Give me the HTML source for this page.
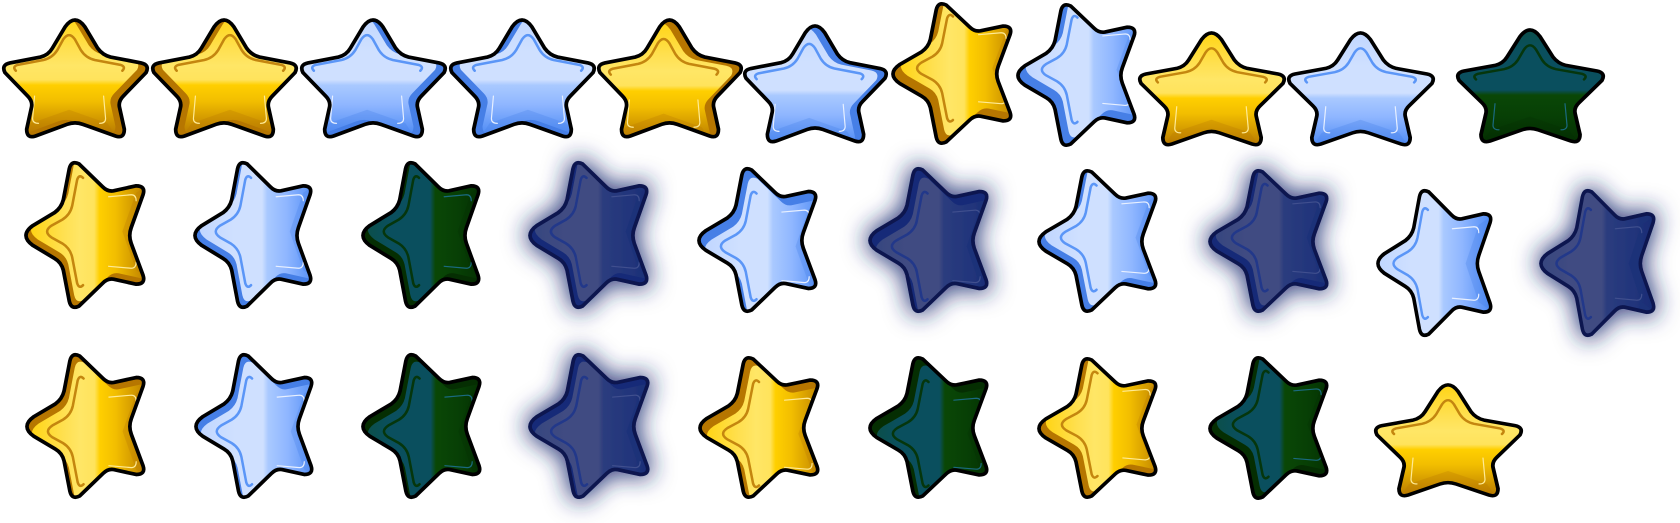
<!DOCTYPE html>
<html lang="en">
<head>
<meta charset="utf-8">
<title>Star sprite sheet</title>
<style>
html,body{margin:0;padding:0;background:#fff;width:1680px;height:523px;overflow:hidden}
svg{display:block}
</style>
</head>
<body>
<svg id="sheet" xmlns="http://www.w3.org/2000/svg" width="1680" height="523" viewBox="0 0 1680 523">
<defs>
<path id="star-outline" d="M62,8 Q72,-6 82,8 L95,30 Q100,37 108,39 L139,45 Q148,47 144,55 L121,79 Q116,84 117,90 L122,113 Q122,123 113,120 L80,108 Q72,105 64,108 L32,120 Q23,123 23,113 L28,90 Q29,84 24,79 L1,55 Q-3,47 6,45 L37,39 Q45,37 49,30 Z"/>
<clipPath id="star-clip"><use href="#star-outline"/></clipPath>
<filter id="glow" x="-50%" y="-50%" width="200%" height="200%">
<feMorphology in="SourceAlpha" operator="dilate" radius="2" result="d"/>
<feGaussianBlur in="d" stdDeviation="12" result="b"/>
<feFlood flood-color="#1c2a70" flood-opacity="0.9"/>
<feComposite in2="b" operator="in" result="s"/>
<feMerge><feMergeNode in="s"/><feMergeNode in="SourceGraphic"/></feMerge>
</filter>
<linearGradient id="face-gold" gradientUnits="userSpaceOnUse" x1="0" y1="0" x2="0" y2="121">
<stop offset="0" stop-color="#ffd414"/><stop offset=".28" stop-color="#ffe050"/><stop offset=".42" stop-color="#ffe666"/><stop offset=".54" stop-color="#ffe35c"/><stop offset=".585" stop-color="#ffcf00"/><stop offset=".72" stop-color="#f2be00"/><stop offset="1" stop-color="#b87a00"/>
</linearGradient>
<linearGradient id="face-blue" gradientUnits="userSpaceOnUse" x1="0" y1="0" x2="0" y2="121">
<stop offset="0" stop-color="#c0d6ff"/><stop offset=".3" stop-color="#cfe0ff"/><stop offset=".54" stop-color="#cfe0ff"/><stop offset=".585" stop-color="#a9c9ff"/><stop offset=".75" stop-color="#8fb6ff"/><stop offset="1" stop-color="#4f8cf5"/>
</linearGradient>
<linearGradient id="face-dark" gradientUnits="userSpaceOnUse" x1="0" y1="0" x2="0" y2="121">
<stop offset="0" stop-color="#0b4f4a"/><stop offset=".2" stop-color="#0a4f5e"/><stop offset=".54" stop-color="#0a4f5e"/><stop offset=".585" stop-color="#0a4706"/><stop offset=".78" stop-color="#073f05"/><stop offset="1" stop-color="#052f02"/>
</linearGradient>
<linearGradient id="face-navy" gradientUnits="userSpaceOnUse" x1="0" y1="0" x2="0" y2="121">
<stop offset="0" stop-color="#37467f"/><stop offset=".3" stop-color="#414c82"/><stop offset=".54" stop-color="#414c82"/><stop offset=".585" stop-color="#2b3c7e"/><stop offset=".78" stop-color="#23367c"/><stop offset="1" stop-color="#1a2e76"/>
</linearGradient>
</defs>
<rect x="0" y="0" width="1680" height="523" fill="#fff"/>
</svg>
<script>
var svgNS = 'http://www.w3.org/2000/svg';
var palettes = {
  gold: { body: '#b67600', stroke: '#000', upper: '#c4860f', lower: '#ffeb96' },
  blue: { body: '#467fe6', stroke: '#000', upper: '#5b96f7', lower: '#e8f0ff' },
  dark: { body: '#052e02', stroke: '#000', upper: '#05360c', lower: '#1a6a80' },
  navy: { body: '#172b78', stroke: '#0a1650', upper: '#20388a', lower: '#3f4f8e' }
};
/* colour, orientation (u = up, l = left), box x0,x1,y0,y1, face shift in local units */
var stars = [
  ['gold','u',3,148,18,138,-9,-3],
  ['gold','u',152,297,18,138,9,-3],
  ['blue','u',301,446,18,138,-9,-3],
  ['blue','u',450,595,18,138,9,-3],
  ['gold','u',598,742,18,138,-9,3],
  ['blue','u',744,887,24,143,-9,2],
  ['gold','l',891,1012,3,144,8,8],
  ['blue','l',1016,1136,4,146,8,8],
  ['gold','u',1139,1285,31,146,0,0],
  ['blue','u',1288,1434,31,146,0,0],
  ['dark','u',1457,1604,28,143,0,0],
  ['gold','l',24,145,162,308,6,5],
  ['blue','l',193,312,162,308,6,5],
  ['dark','l',361,480,162,308,6,5],
  ['navy','l',528,648,162,308,6,5],
  ['blue','l',697,817,168,312,-9,6],
  ['navy','l',868,988,168,312,-9,6],
  ['blue','l',1037,1157,170,312,6,6],
  ['navy','l',1208,1328,170,312,6,6],
  ['blue','l',1376,1492,190,336,0,0],
  ['navy','l',1539,1655,190,336,0,0],
  ['gold','l',25,145,354,498,-7,5],
  ['blue','l',194,313,354,498,-7,5],
  ['dark','l',361,481,354,498,-7,5],
  ['navy','l',528,649,354,498,-7,5],
  ['gold','l',698,819,357,498,-8,7],
  ['dark','l',868,988,357,498,-8,7],
  ['gold','l',1037,1157,358,498,6,7],
  ['dark','l',1208,1328,357,499,6,7],
  ['gold','u',1375,1522,383,497,0,0]
];
var sheet = document.getElementById('sheet');
var margin = 1;
stars.forEach(function (s, i) {
  var p = palettes[s[0]];
  var x0 = s[2] + margin, x1 = s[3] - margin, y0 = s[4] + margin, y1 = s[5] - margin;
  var w = x1 - x0, h = y1 - y0, tr;
  if (s[1] === 'u') {
    tr = 'translate(' + x0 + ',' + y0 + ') scale(' + (w / 145) + ',' + (h / 121) + ')';
  } else {
    tr = 'translate(' + x0 + ',' + y1 + ') scale(' + (w / 121) + ',' + (h / 145) + ') rotate(-90)';
  }
  var g = document.createElementNS(svgNS, 'g');
  
  
  g.setAttribute('transform', tr);
  if (s[0] === 'navy') g.setAttribute('filter', 'url(#glow)');
  var shift = 'translate(' + s[6] + ',' + s[7] + ')';
  var lineShift = 'translate(' + Math.round(s[6] * 0.7) + ',' + (s[7] < 0 ? s[7] + 2 : s[7]) + ')';
  g.innerHTML =
    '<use href="#star-outline" fill="' + p.body + '"/>' +
    '<g clip-path="url(#star-clip)"><g transform="' + shift + '">' +
    '<use href="#star-outline" fill="url(#face-' + s[0] + ')"/></g>' +
    '<g transform="' + lineShift + '">' +
    '<path d="M33,108 L72,94 L111,108 L124,128 L20,128 Z" fill="' + p.body + '" opacity="0.28"/>' +
    '<path d="M126,54 Q130,50 124,48 L98,43 Q89,41 84,33 L78,22 Q72,13 66,22 L60,33 Q55,41 46,43 L20,48 Q14,50 18,54" fill="none" stroke="' + p.upper + '" stroke-width="2.6" stroke-linecap="round"/>' +
    '<path d="M37,80 L35,103 Q35,108 41,108 M107,80 L109,103 Q109,108 103,108" fill="none" stroke="' + p.lower + '" stroke-width="1.2" stroke-linecap="round"/>' +
    '</g></g>' +
    '<use href="#star-outline" fill="none" stroke="' + p.stroke + '" stroke-width="3.8" stroke-linejoin="round"/>';
  sheet.appendChild(g);
});
</script>
</body>
</html>
